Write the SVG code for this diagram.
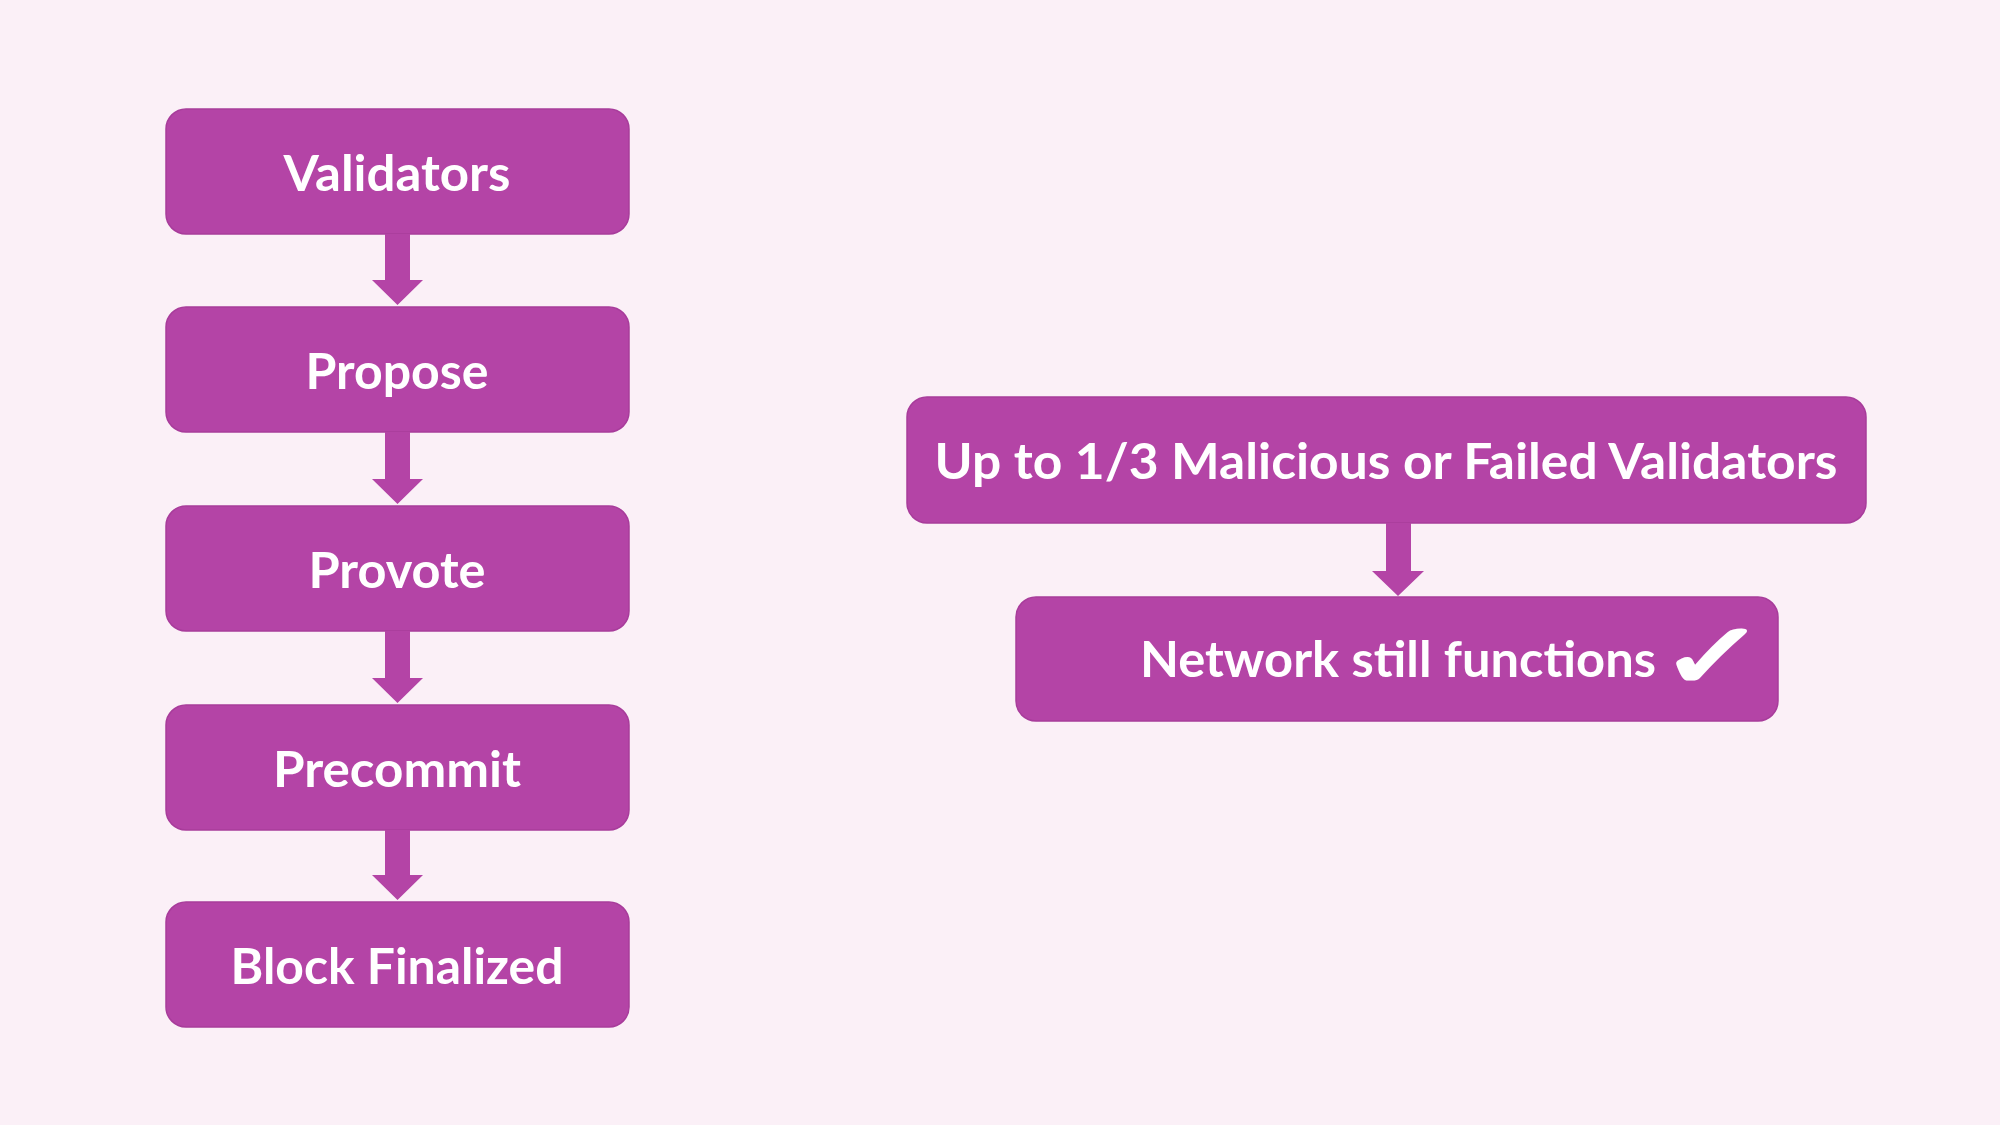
<svg xmlns="http://www.w3.org/2000/svg" width="2000" height="1125" viewBox="0 0 2000 1125">
<style>
.box{fill:#B444A6;stroke:#A83C9B;stroke-width:1.5}
.lbl{font-family:Lato,"Open Sans","Liberation Sans",sans-serif;font-weight:bold;font-size:50px;fill:#FFFFFF;text-anchor:middle}
.arr{fill:#B444A6}
</style>
<rect width="2000" height="1125" fill="#FBF0F7"/>
<g id="n-validators"><rect class="box" x="166" y="109" width="463" height="125" rx="20"/><text class="lbl" x="397" y="191" textLength="227" lengthAdjust="spacingAndGlyphs">Validators</text></g>
<g id="n-propose"><rect class="box" x="166" y="307" width="463" height="125" rx="20"/><text class="lbl" x="397" y="389" textLength="183" lengthAdjust="spacingAndGlyphs">Propose</text></g>
<g id="n-provote"><rect class="box" x="166" y="506" width="463" height="125" rx="20"/><text class="lbl" x="397" y="588" textLength="177" lengthAdjust="spacingAndGlyphs">Provote</text></g>
<g id="n-precommit"><rect class="box" x="166" y="705" width="463" height="125" rx="20"/><text class="lbl" x="397" y="787" textLength="248" lengthAdjust="spacingAndGlyphs">Precommit</text></g>
<g id="n-block"><rect class="box" x="166" y="902" width="463" height="125" rx="20"/><text class="lbl" x="397" y="984" textLength="333" lengthAdjust="spacingAndGlyphs">Block Finalized</text></g>
<g id="n-malicious"><rect class="box" x="907" y="397" width="959" height="126" rx="20"/><text class="lbl" x="1386" y="479" textLength="903" lengthAdjust="spacingAndGlyphs">Up to 1/3 Malicious or Failed Validators</text></g>
<g id="n-network"><rect class="box" x="1016" y="597" width="762" height="124" rx="20"/><text class="lbl" x="1398" y="677" textLength="516" lengthAdjust="spacingAndGlyphs">Network still functions</text><text transform="translate(1713,688) scale(1.4,1)" font-family="'DejaVu Sans',sans-serif" font-weight="bold" font-size="92" fill="#FFFFFF" stroke="#FFFFFF" stroke-width="3" text-anchor="middle">✓</text></g>
<g id="connectors">
<path class="arr" d="M385 234H410V280H423L397.5 305L372 280H385Z"/>
<path class="arr" d="M385 432H410V479H423L397.5 504L372 479H385Z"/>
<path class="arr" d="M385 631H410V678H423L397.5 703L372 678H385Z"/>
<path class="arr" d="M385 830H410V875H423L397.5 900L372 875H385Z"/>
<path class="arr" d="M1386 523H1411V571H1424L1398 596L1372 571H1386Z"/>
</g>
</svg>
